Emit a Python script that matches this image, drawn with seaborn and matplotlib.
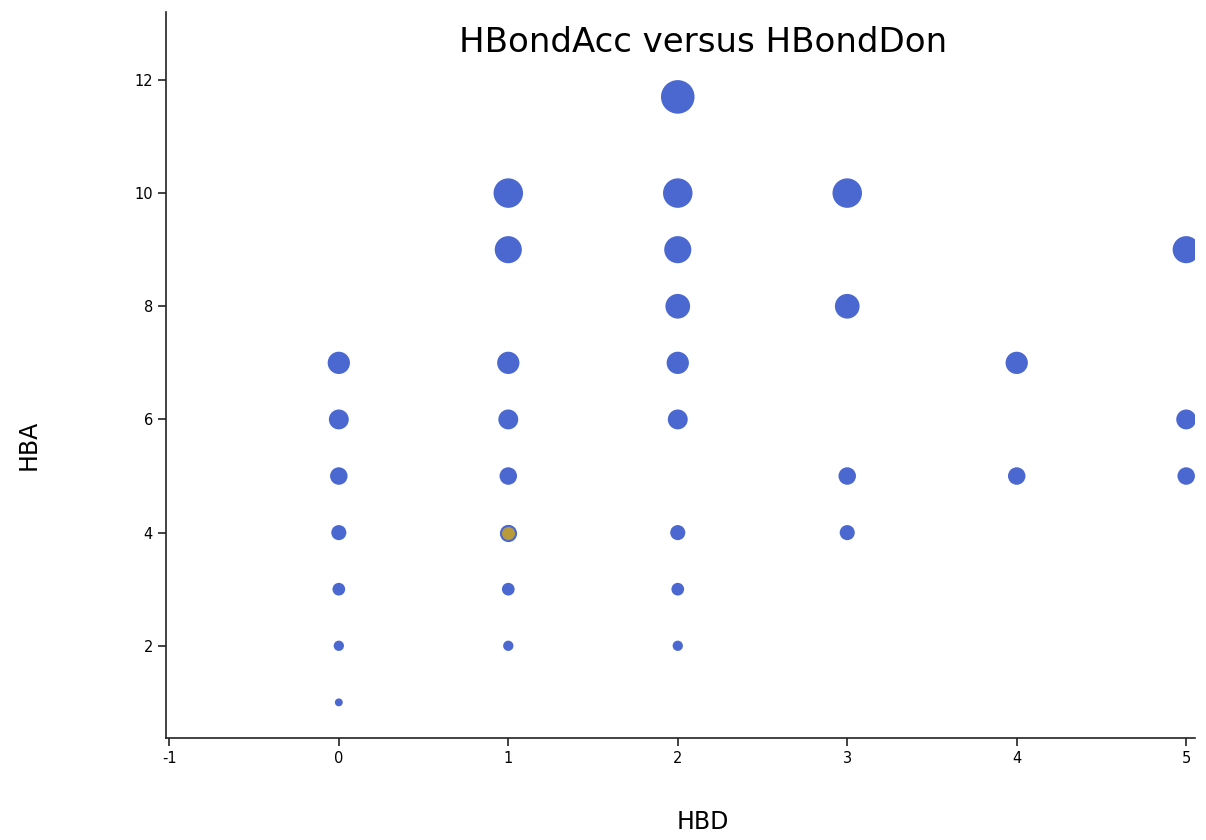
import matplotlib
matplotlib.use('Agg')
import matplotlib.pyplot as plt
import seaborn as sns
import pandas as pd

# data
hbd = [0, 0, 0, 0, 0, 0, 0,
       1, 1, 1, 1, 1, 1, 1, 1,
       2, 2, 2, 2, 2, 2, 2, 2, 2,
       3, 3, 3, 3,
       4, 4,
       5, 5, 5]
hba = [1, 2, 3, 4, 5, 6, 7,
       2, 3, 4, 5, 6, 7, 9, 10,
       2, 3, 4, 6, 7, 8, 9, 10, 11.7,
       4, 5, 8, 10,
       5, 7,
       5, 6, 9]
highlight = (1, 4)

df = pd.DataFrame({'HBD': hbd, 'HBA': hba})

sns.set_style('white')
plt.rcParams['font.family'] = ['DejaVu Sans']
plt.rcParams['axes.unicode_minus'] = False
plt.rcParams['text.color'] = 'black'

fig = plt.figure(figsize=(12.06, 8.4), dpi=100)
ax = fig.add_axes([0.1376, 0.1214, 0.853, 0.8643])

# marker diameter grows with HBA
size_map = {v: ((2.4 * v + 5.5) * 0.72) ** 2 for v in df['HBA'].unique()}
sns.scatterplot(data=df, x='HBD', y='HBA', size='HBA', sizes=size_map,
                color='#4a68d0', edgecolor='none', legend=False, ax=ax)
hl = df[(df['HBD'] == highlight[0]) & (df['HBA'] == highlight[1])]
ax.scatter(hl['HBD'], hl['HBA'], s=size_map[highlight[1]], color='#b89a3a',
           edgecolor='#4a68d0', linewidth=1.5, zorder=3)

ax.set_xlim(-1.02, 5.05)
ax.set_ylim(0.37, 13.2)
ax.set_xticks(range(-1, 6))
ax.set_yticks(range(2, 13, 2))
ax.tick_params(axis='both', direction='out', length=6, width=1.2, color='#222222',
               labelsize=10.5, labelcolor='black', bottom=True, left=True)
for s in ['top', 'right']:
    ax.spines[s].set_visible(False)
for s in ['left', 'bottom']:
    ax.spines[s].set_color('#222222')
    ax.spines[s].set_linewidth(1.2)

ax.set_xlabel('')
ax.set_ylabel('')
fig.text(0.583, 0.021, 'HBD', ha='center', va='center', fontsize=17)
fig.text(0.024, 0.47, 'HBA', ha='center', va='center', rotation=90, fontsize=17)
fig.text(0.583, 0.95, 'HBondAcc versus HBondDon', ha='center', va='center', fontsize=24.5)

fig.savefig('out.png', dpi=100)
